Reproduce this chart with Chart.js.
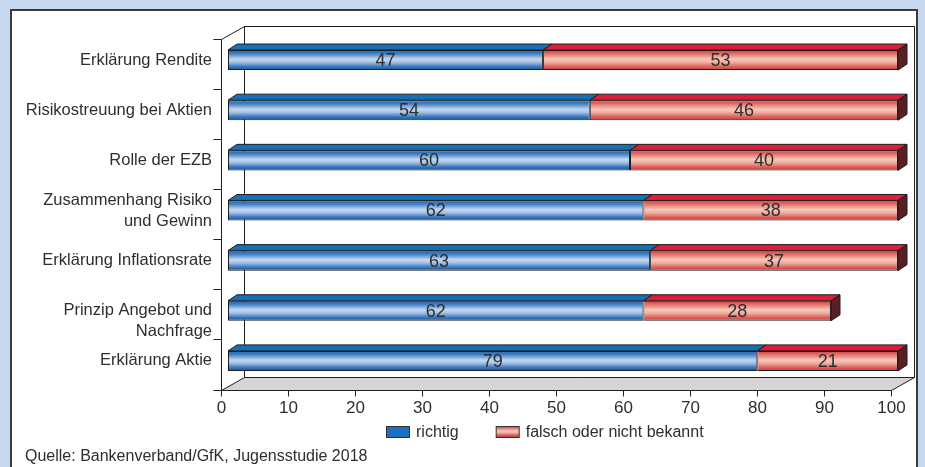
<!DOCTYPE html>
<html>
<head>
<meta charset="utf-8">
<script src="https://cdn.jsdelivr.net/npm/chart.js@4.4.1/dist/chart.umd.min.js"></script>
<style>
  html, body { margin: 0; padding: 0; background: #c6d9f0; }
  canvas { display: block; }
</style>
</head>
<body>
<canvas id="chart" width="925" height="467"></canvas>
<script>
// Survey topics (one entry per bar, multi-line labels as arrays)
const categories = [
  ['Erklärung Rendite'],
  ['Risikostreuung bei Aktien'],
  ['Rolle der EZB'],
  ['Zusammenhang Risiko', 'und Gewinn'],
  ['Erklärung Inflationsrate'],
  ['Prinzip Angebot und', 'Nachfrage'],
  ['Erklärung Aktie']
];
const seriesNames = ['richtig', 'falsch oder nicht bekannt'];
const richtig = [47, 54, 60, 62, 63, 62, 79];
const falsch = [53, 46, 40, 38, 37, 28, 21];
const xTicks = [0, 10, 20, 30, 40, 50, 60, 70, 80, 90, 100];
const sourceNote = 'Quelle: Bankenverband/GfK, Jugensstudie 2018';

const FONT = '"Liberation Sans", Arial, sans-serif';
const TEXT = '#2e2e2e';
const LINE = '#1e1e1e';

// Oblique offsets of the frame planes and of the bar depth
const FRONT = { dx: -7.5, dy: 3.5 };
const BACK = { dx: 15.5, dy: -9 };
const BAR_DEPTH = { dx: 9, dy: -6 };

const COLORS = {
  blue: { top: '#1470b8', box: '#1a6fc0',
          stops: [[0, '#2a62a6'], [0.18, '#3f80c6'], [0.45, '#c4d7ef'], [0.6, '#a8c3e6'], [0.85, '#2f71ba'], [1, '#1d5a9e']] },
  red: { top: '#e01c38', side: '#5a1f25',
         stops: [[0, '#cf3c3c'], [0.18, '#e0706a'], [0.45, '#f6c7b8'], [0.6, '#f0b2a4'], [0.85, '#dc5a55'], [1, '#c83d3d']] }
};

function barGradient(palette) {
  return (context) => {
    const chart = context.chart;
    const yScale = chart.scales.y;
    if (!chart.chartArea || !yScale) return palette.stops[2][1];
    const band = yScale.height / categories.length;
    const h = band * 0.4;
    const yc = yScale.getPixelForValue(context.dataIndex);
    const g = chart.ctx.createLinearGradient(0, yc - h / 2, 0, yc + h / 2);
    palette.stops.forEach(([o, c]) => g.addColorStop(o, c));
    return g;
  };
}

const px = (v) => Math.round(v) + 0.5;

const panelAndFrame = {
  id: 'panelAndFrame',
  beforeDraw(chart) {
    const { ctx, width, height } = chart;
    ctx.save();
    ctx.fillStyle = '#c6d9f0';
    ctx.fillRect(0, 0, width, height);
    ctx.fillStyle = '#ffffff';
    ctx.fillRect(10, 9, 908, height);
    ctx.strokeStyle = '#3a3a3a';
    ctx.lineWidth = 2;
    ctx.beginPath();
    ctx.moveTo(11, height + 2);
    ctx.lineTo(11, 10);
    ctx.lineTo(917, 10);
    ctx.lineTo(917, height + 2);
    ctx.stroke();
    ctx.restore();
  },
  beforeDatasetsDraw(chart) {
    const { ctx, chartArea: a, scales: { x, y } } = chart;
    const L = x.getPixelForValue(xTicks[0]);
    const R = x.getPixelForValue(xTicks[xTicks.length - 1]);
    const fL = px(L + FRONT.dx), fR = px(R + FRONT.dx);
    const fT = px(a.top + FRONT.dy), fB = px(a.bottom + FRONT.dy);
    const bL = px(L + BACK.dx), bR = px(R + BACK.dx);
    const bT = px(a.top + BACK.dy), bB = px(a.bottom + BACK.dy);

    ctx.save();
    ctx.lineWidth = 1;
    ctx.strokeStyle = LINE;

    // back wall
    ctx.fillStyle = '#ffffff';
    ctx.fillRect(bL, bT, bR - bL, bB - bT);
    ctx.strokeRect(bL, bT, bR - bL, bB - bT);

    // floor
    ctx.beginPath();
    ctx.moveTo(fL, fB); ctx.lineTo(fR, fB); ctx.lineTo(bR, bB); ctx.lineTo(bL, bB);
    ctx.closePath();
    ctx.fillStyle = '#d5d5d5';
    ctx.fill();
    ctx.stroke();

    // left wall edges
    ctx.beginPath();
    ctx.moveTo(fL, fB); ctx.lineTo(fL, fT); ctx.lineTo(bL, bT);
    ctx.stroke();

    // category separators on the category axis
    const band = (a.bottom - a.top) / categories.length;
    ctx.beginPath();
    for (let i = 0; i <= categories.length; i++) {
      const yy = px(a.top + i * band + FRONT.dy);
      ctx.moveTo(fL - 8, yy); ctx.lineTo(fL, yy);
    }
    ctx.stroke();

    // value axis ticks and labels on the front floor edge
    ctx.fillStyle = TEXT;
    ctx.font = '17px ' + FONT;
    ctx.textAlign = 'center';
    ctx.textBaseline = 'middle';
    ctx.beginPath();
    xTicks.forEach((v) => {
      const xx = px(x.getPixelForValue(v) + FRONT.dx);
      ctx.moveTo(xx, fB); ctx.lineTo(xx, fB + 6);
      ctx.fillText(String(v), xx, fB + 18);
    });
    ctx.stroke();
    ctx.restore();
  },
  afterDatasetsDraw(chart) {
    const { ctx } = chart;
    const last = chart.data.datasets.length - 1;
    ctx.save();
    ctx.lineWidth = 1;
    ctx.strokeStyle = LINE;
    chart.data.datasets.forEach((ds, di) => {
      const meta = chart.getDatasetMeta(di);
      const pal = di === 0 ? COLORS.blue : COLORS.red;
      meta.data.forEach((bar) => {
        const x0 = Math.min(bar.base, bar.x), x1 = Math.max(bar.base, bar.x);
        const top = bar.y - bar.height / 2, bottom = bar.y + bar.height / 2;
        // top face
        ctx.beginPath();
        ctx.moveTo(x0, top); ctx.lineTo(x1, top);
        ctx.lineTo(x1 + BAR_DEPTH.dx, top + BAR_DEPTH.dy);
        ctx.lineTo(x0 + BAR_DEPTH.dx, top + BAR_DEPTH.dy);
        ctx.closePath();
        ctx.fillStyle = pal.top;
        ctx.fill();
        ctx.stroke();
        // end face of the stack
        if (di === last) {
          ctx.beginPath();
          ctx.moveTo(x1, top);
          ctx.lineTo(x1 + BAR_DEPTH.dx, top + BAR_DEPTH.dy);
          ctx.lineTo(x1 + BAR_DEPTH.dx, bottom + BAR_DEPTH.dy);
          ctx.lineTo(x1, bottom);
          ctx.closePath();
          ctx.fillStyle = COLORS.red.side;
          ctx.fill();
          ctx.stroke();
        }
      });
    });
    // value labels centred on each front face
    ctx.fillStyle = TEXT;
    ctx.font = '18px ' + FONT;
    ctx.textAlign = 'center';
    ctx.textBaseline = 'middle';
    chart.data.datasets.forEach((ds, di) => {
      chart.getDatasetMeta(di).data.forEach((bar, i) => {
        ctx.fillText(String(ds.data[i]), (bar.base + bar.x) / 2, bar.y + 1);
      });
    });
    ctx.restore();
  },
  afterDraw(chart) {
    const { ctx } = chart;
    ctx.save();
    ctx.font = '16px ' + FONT;
    ctx.textBaseline = 'middle';
    ctx.textAlign = 'left';
    ctx.lineWidth = 1;
    ctx.strokeStyle = '#333';
    // legend
    let lx = 386;
    const ly = 426, bw = 23, bh = 11;
    seriesNames.forEach((name, i) => {
      let fill;
      if (i === 0) {
        fill = COLORS.blue.box;
      } else {
        fill = ctx.createLinearGradient(0, ly, 0, ly + bh);
        COLORS.red.stops.forEach(([o, c]) => fill.addColorStop(o, c));
      }
      ctx.fillStyle = fill;
      ctx.fillRect(lx + 0.5, ly + 0.5, bw, bh);
      ctx.strokeRect(lx + 0.5, ly + 0.5, bw, bh);
      ctx.fillStyle = TEXT;
      ctx.fillText(name, lx + bw + 7, ly + bh / 2 + 1);
      lx += bw + 7 + ctx.measureText(name).width + 37;
    });
    // source line
    ctx.fillText(sourceNote, 25, 457);
    ctx.restore();
  }
};

new Chart(document.getElementById('chart'), {
  type: 'bar',
  data: {
    labels: categories,
    datasets: [
      { label: seriesNames[0], data: richtig, backgroundColor: barGradient(COLORS.blue),
        borderColor: LINE, borderWidth: 1, borderSkipped: false },
      { label: seriesNames[1], data: falsch, backgroundColor: barGradient(COLORS.red),
        borderColor: LINE, borderWidth: 1, borderSkipped: false }
    ]
  },
  options: {
    indexAxis: 'y',
    responsive: false,
    animation: false,
    devicePixelRatio: 1,
    layout: { padding: { top: 35, right: 27, bottom: 81, left: 0 } },
    datasets: { bar: { barPercentage: 0.4, categoryPercentage: 1 } },
    scales: {
      x: { stacked: true, min: 0, max: 100, display: false },
      y: {
        stacked: true,
        grid: { display: false, drawTicks: false },
        border: { display: false },
        afterFit(scale) { scale.width = 228; },
        ticks: {
          autoSkip: false,
          padding: 16,
          color: TEXT,
          font: { family: FONT, size: 16.5, lineHeight: 1.27 },
          // the two-line "Prinzip" label sits half a line lower
          callback: (value, index) => index === 5 ? [''].concat(categories[index]) : categories[index]
        }
      }
    },
    plugins: { legend: { display: false }, tooltip: { enabled: false } }
  },
  plugins: [panelAndFrame]
});
</script>
</body>
</html>
